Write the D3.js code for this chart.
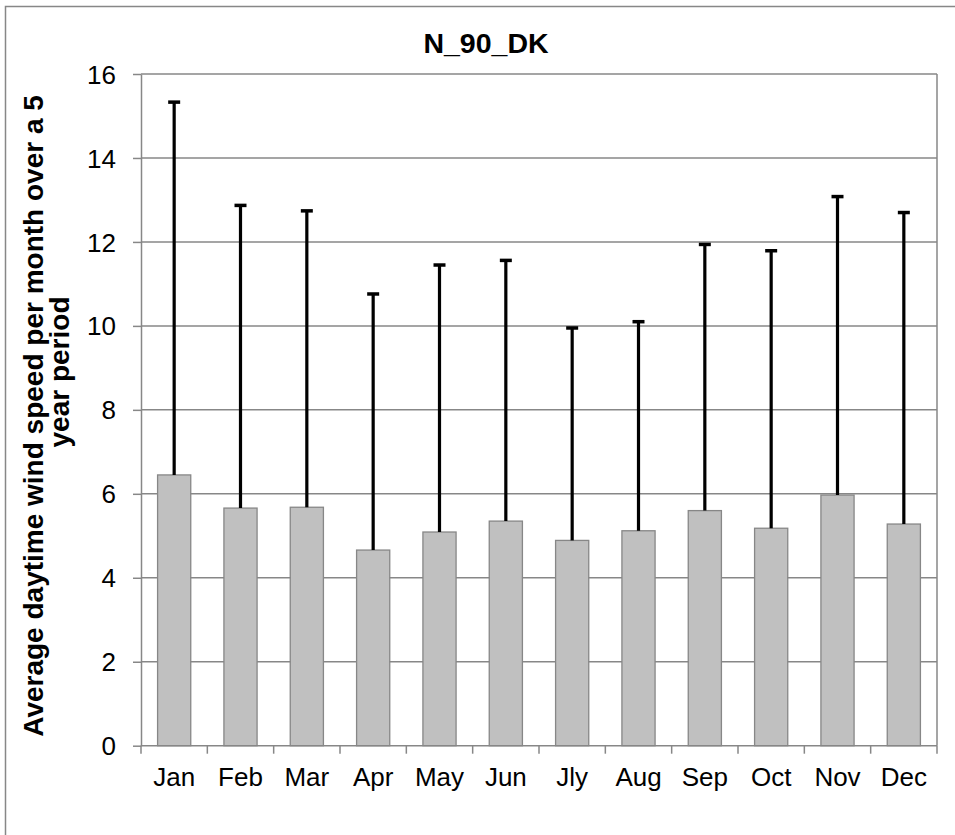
<!DOCTYPE html>
<html><head><meta charset="utf-8">
<script src="https://cdn.jsdelivr.net/npm/d3@7"></script>
<style>body{margin:0;background:#fff}svg{display:block;font-family:Arial,"Liberation Sans",sans-serif}</style>
</head><body>
<script>
const months = ["Jan","Feb","Mar","Apr","May","Jun","Jly","Aug","Sep","Oct","Nov","Dec"];
const avgSpeed = [6.45,5.66,5.68,4.66,5.09,5.35,4.89,5.12,5.60,5.18,5.97,5.28];
const errorTop = [15.33,12.87,12.74,10.76,11.45,11.56,9.95,10.10,11.94,11.79,13.08,12.70];
const yTicks = [0,2,4,6,8,10,12,14,16];
const title = "N_90_DK";
const yTitleLines = ["Average daytime wind speed per month over a 5","year period"];

const W=955,H=835;
const FONT="Arial,'Liberation Sans',sans-serif";
const svg=d3.select("body").append("svg").attr("width",W).attr("height",H);
// outer chart border
svg.append("rect").attr("x",5.5).attr("y",6.5).attr("width",1000).attr("height",1000)
  .attr("fill","none").attr("stroke","#878787").attr("stroke-width",1.5);

const L=141,R=937,T=74,B=745.7;
const x=d3.scaleBand().domain(months).range([L,R]).paddingInner(0.5).paddingOuter(0.25);
const y=d3.scaleLinear().domain([0,16]).range([B,T]);
const grid="#878787";

// gridlines
svg.append("g").selectAll("line").data(yTicks.filter(d=>d>0)).join("line")
  .attr("x1",L).attr("x2",R).attr("y1",d=>y(d)).attr("y2",d=>y(d))
  .attr("stroke",grid).attr("stroke-width",1.5);
// right border of plot
svg.append("line").attr("x1",R).attr("x2",R).attr("y1",T).attr("y2",B)
  .attr("stroke",grid).attr("stroke-width",1.5);

// bars
svg.append("g").selectAll("rect").data(months).join("rect")
  .attr("x",(d)=>x(d)).attr("width",x.bandwidth())
  .attr("y",(d,i)=>y(avgSpeed[i])).attr("height",(d,i)=>B-y(avgSpeed[i]))
  .attr("fill","#c0c0c0").attr("stroke","#878787").attr("stroke-width",1.3);

// error bars (plus only)
const eb=svg.append("g");
months.forEach((m,i)=>{
  const cx=x(m)+x.bandwidth()/2;
  eb.append("line").attr("x1",cx).attr("x2",cx).attr("y1",y(avgSpeed[i])).attr("y2",y(errorTop[i]))
    .attr("stroke","#000").attr("stroke-width",3.2);
  eb.append("line").attr("x1",cx-6).attr("x2",cx+6).attr("y1",y(errorTop[i])).attr("y2",y(errorTop[i]))
    .attr("stroke","#000").attr("stroke-width",3.5);
});

// y axis
const ya=svg.append("g").attr("transform",`translate(${L},0)`)
  .call(d3.axisLeft(y).tickValues(yTicks).tickSize(8).tickPadding(17).tickSizeOuter(0));
ya.select(".domain").attr("stroke",grid).attr("stroke-width",1.5);
ya.selectAll(".tick line").attr("stroke",grid).attr("stroke-width",1.5);
ya.selectAll(".tick text").attr("font-size",26).attr("fill","#000").attr("font-family",FONT).attr("dy","0.35em");

// x axis
const xa=svg.append("g").attr("transform",`translate(0,${B})`)
  .call(d3.axisBottom(x).tickSize(0).tickPadding(0));
xa.select(".domain").attr("d",`M${L},0H${R}`).attr("stroke",grid).attr("stroke-width",1.5);
xa.selectAll(".tick text").attr("font-size",26).attr("fill","#000").attr("font-family",FONT)
  .attr("dy",null).attr("y",40);
const step=x.step();
const bounds=d3.range(months.length+1).map(i=>L+i*step);
svg.append("g").selectAll("line").data(bounds).join("line")
  .attr("x1",d=>d).attr("x2",d=>d).attr("y1",B).attr("y2",B+8)
  .attr("stroke",grid).attr("stroke-width",1.5);

// title
svg.append("text").attr("x",486).attr("y",53).attr("text-anchor","middle").attr("font-family",FONT)
  .attr("font-size",28.5).attr("font-weight","bold").text(title);

// y title
const yt=svg.append("text").attr("transform","rotate(-90)").attr("font-family",FONT)
  .attr("text-anchor","middle").attr("font-size",28).attr("font-weight","bold");
yt.append("tspan").attr("x",-416).attr("y",43).text(yTitleLines[0]);
yt.append("tspan").attr("x",-372).attr("y",69).text(yTitleLines[1]);
</script>
</body></html>
